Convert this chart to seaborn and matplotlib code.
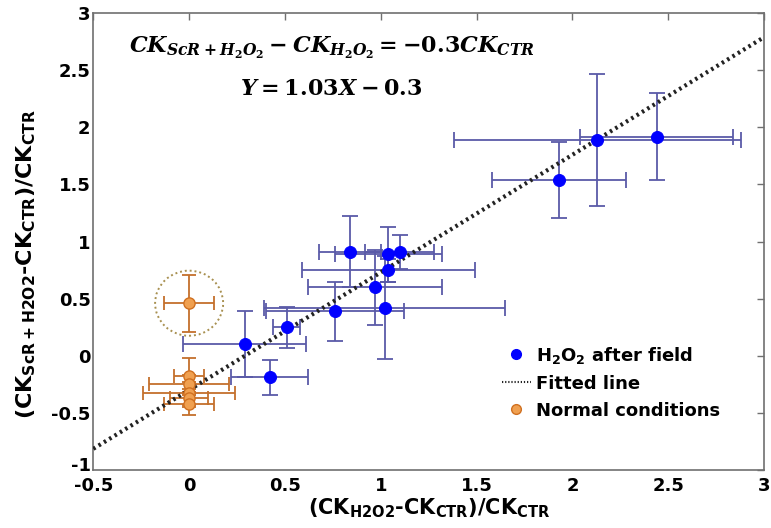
import matplotlib
matplotlib.use("Agg")
import matplotlib.pyplot as plt
import matplotlib.transforms as mtransforms
from matplotlib.lines import Line2D
from matplotlib.patches import Ellipse
import numpy as np
import seaborn as sns

# H2O2 after field (blue points)
h2o2_x = [2.44, 2.13, 1.93, 0.84, 1.04, 1.10, 1.04, 0.97, 1.02, 0.76, 0.51, 0.29, 0.42]
h2o2_y = [1.92, 1.89, 1.54, 0.91, 0.89, 0.91, 0.75, 0.60, 0.42, 0.39, 0.25, 0.10, -0.19]
h2o2_xerr = [0.40, 0.75, 0.35, 0.16, 0.28, 0.18, 0.45, 0.35, 0.63, 0.36, 0.07, 0.32, 0.20]
h2o2_yerr = [0.38, 0.58, 0.33, 0.31, 0.24, 0.15, 0.10, 0.33, 0.45, 0.26, 0.18, 0.29, 0.15]

# Normal conditions (orange points)
normal_x = [0, 0, 0, 0, 0, 0]
normal_y = [0.46, -0.18, -0.25, -0.33, -0.37, -0.42]
normal_xerr = [0.13, 0.08, 0.21, 0.24, 0.10, 0.13]
normal_yerr = [0.25, 0.16, 0.08, 0.10, 0.08, 0.10]

# fitted line Y = slope*X + intercept
slope = 1.03
intercept = -0.3
fit_x = np.array([-0.5, 3.0])

x_ticks = [-0.5, 0, 0.5, 1, 1.5, 2, 2.5, 3]
y_ticks = [-1, -0.5, 0, 0.5, 1, 1.5, 2, 2.5, 3]

sns.set_style("white")
plt.rcParams["font.family"] = ["DejaVu Sans"]
plt.rcParams["font.weight"] = "bold"
plt.rcParams["text.color"] = "black"
plt.rcParams["axes.labelcolor"] = "black"
plt.rcParams["xtick.color"] = "black"
plt.rcParams["ytick.color"] = "black"
plt.rcParams["mathtext.fontset"] = "custom"
plt.rcParams["mathtext.it"] = "DejaVu Serif:italic:bold"
plt.rcParams["mathtext.rm"] = "DejaVu Serif:bold"
plt.rcParams["mathtext.bf"] = "DejaVu Sans:bold"

fig = plt.figure(figsize=(7.71, 5.28), dpi=100)
ax = fig.add_axes([0.121, 0.110, 0.870, 0.865])

blue_err = "#5a5aa8"
orange_err = "#c4702c"

ax.errorbar(h2o2_x, h2o2_y, xerr=h2o2_xerr, yerr=h2o2_yerr, fmt="none",
            ecolor=blue_err, elinewidth=1.3, capsize=6, capthick=1.3, zorder=2)
ax.errorbar(normal_x, normal_y, xerr=normal_xerr, yerr=normal_yerr, fmt="none",
            ecolor=orange_err, elinewidth=1.3, capsize=5, capthick=1.3, zorder=2)

sns.lineplot(x=fit_x, y=slope * fit_x + intercept, ax=ax, color="#222222",
             linestyle=(0, (0.6, 0.9)), linewidth=3, zorder=3)

sns.scatterplot(x=h2o2_x, y=h2o2_y, ax=ax, color="#0000ff", edgecolor="#0000ff",
                s=75, zorder=4)
sns.scatterplot(x=normal_x, y=normal_y, ax=ax, color="#f0a050", edgecolor="#d07020",
                linewidth=1, s=65, zorder=4)

# dotted circle highlighting the upper normal-condition point
ax.add_patch(Ellipse((normal_x[0], normal_y[0]), width=0.355, height=0.57,
                     fill=False, edgecolor="#a89050", linestyle=(0, (1, 1.5)),
                     linewidth=1.4, zorder=1))

ax.set_xlim(-0.5, 3)
ax.set_ylim(-1, 3)
ax.set_xticks(x_ticks)
ax.set_xticklabels(["-0.5", "0", "0.5", "1", "1.5", "2", "2.5", "3"])
ax.set_yticks(y_ticks)
ax.set_yticklabels(["-1", "-0.5", "0", "0.5", "1", "1.5", "2", "2.5", "3"])
ax.tick_params(direction="in", length=5, width=1, color="#707070",
               labelcolor="black", top=True, right=True, labelsize=13, pad=2)
ax.tick_params(axis="x", pad=5)
for lab in ax.get_xticklabels() + ax.get_yticklabels():
    lab.set_fontweight("bold")
# lift the bottom y label a little so it sits above the first x label
bottom_lab = ax.get_yticklabels()[0]
bottom_lab.set_transform(bottom_lab.get_transform() +
                         mtransforms.ScaledTranslation(0, 4 / 72, fig.dpi_scale_trans))
for sp in ax.spines.values():
    sp.set_color("#707070")
    sp.set_linewidth(1.2)

ax.set_xlabel(r"(CK$_{\mathbf{H2O2}}$-CK$_{\mathbf{CTR}}$)/CK$_{\mathbf{CTR}}$",
              fontsize=15, fontweight="bold")
ax.set_ylabel(r"(CK$_{\mathbf{ScR+H2O2}}$-CK$_{\mathbf{CTR}}$)/CK$_{\mathbf{CTR}}$",
              fontsize=16, fontweight="bold")
ax.xaxis.set_label_coords(0.5, -0.058)
ax.yaxis.set_label_coords(-0.082, 0.45)

ax.text(0.355, 0.925, r"$CK_{ScR+H_2O_2} - CK_{H_2O_2} = -0.3CK_{CTR}$",
        transform=ax.transAxes, ha="center", va="center", fontsize=16)
ax.text(0.355, 0.835, r"$Y = 1.03X - 0.3$",
        transform=ax.transAxes, ha="center", va="center", fontsize=16)

handles = [
    Line2D([], [], marker="o", linestyle="none", color="#0000ff", markersize=7),
    Line2D([], [], color="#222222", linestyle=(0, (0.6, 0.9)), linewidth=1.5),
    Line2D([], [], marker="o", linestyle="none", markerfacecolor="#f0a050",
           markeredgecolor="#d07020", markersize=7),
]
labels = [r"H$_\mathbf{2}$O$_\mathbf{2}$ after field", "Fitted line", "Normal conditions"]
ax.legend(handles, labels, loc="upper left", bbox_to_anchor=(0.598, 0.29),
          frameon=False, fontsize=13, handlelength=1.6, handletextpad=0.3,
          labelspacing=0.5, borderaxespad=0)

fig.savefig("out.png", dpi=100)
